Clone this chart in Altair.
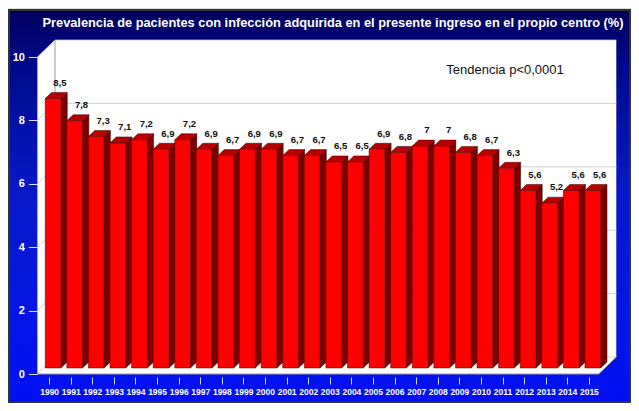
import altair as alt
import pandas as pd

# ---------------- data ----------------
years = [1990, 1991, 1992, 1993, 1994, 1995, 1996, 1997, 1998, 1999, 2000, 2001, 2002,
         2003, 2004, 2005, 2006, 2007, 2008, 2009, 2010, 2011, 2012, 2013, 2014, 2015]
values = [8.5, 7.8, 7.3, 7.1, 7.2, 6.9, 7.2, 6.9, 6.7, 6.9, 6.9, 6.7, 6.7,
          6.5, 6.5, 6.9, 6.8, 7.0, 7.0, 6.8, 6.7, 6.3, 5.6, 5.2, 5.6, 5.6]
value_labels = ["8,5", "7,8", "7,3", "7,1", "7,2", "6,9", "7,2", "6,9", "6,7", "6,9", "6,9", "6,7", "6,7",
                "6,5", "6,5", "6,9", "6,8", "7", "7", "6,8", "6,7", "6,3", "5,6", "5,2", "5,6", "5,6"]
y_ticks = [0, 2, 4, 6, 8, 10]
title_text = "Prevalencia de pacientes con infección adquirida en el presente ingreso en el propio centro (%)"
note_text = "Tendencia p<0,0001"

# ---------------- layout ----------------
W, H = 623, 395
SX = 623 / 636
YEAR_PX = 22.04 * SX
UNIT_PX = 31.7
X_1990 = 42 * SX
Y_ZERO = 366
x_dom = [1990 - X_1990 / YEAR_PX, 1990 + (W - X_1990) / YEAR_PX]
y_dom = [-(H - Y_ZERO) / UNIT_PX, Y_ZERO / UNIT_PX]
xs = alt.Scale(domain=x_dom, nice=False, zero=False)
ys = alt.Scale(domain=y_dom, nice=False, zero=False)

DEPTH_X = 18 / 22.04
DEPTH_Y = 17 / 31.7
FRONT_LEFT = 1990 + (30 - 42) / 22.04
FRONT_RIGHT = 1990 + (603 - 42) / 22.04
BACK_LEFT = FRONT_LEFT + DEPTH_X
BACK_RIGHT = FRONT_RIGHT + DEPTH_X
FX0 = -4 / 22.04
FX1 = 12 / 22.04
BDX = 6.5 / 22.04
BDY = 6 / 31.7
BASE = 6 / 31.7
LBL_DX = 0.5
LBL_DY = 0.59

FONT = "Liberation Sans"

xaxis = alt.Axis(values=years, format="d", offset=-26, tickSize=7, labelPadding=3, title=None,
                 labelFont=FONT, labelFontSize=8.5, labelFontWeight="bold",
                 labelColor="white", tickColor="#c8d0ff", domain=False, grid=False,
                 labelOverlap=False, labelFlush=False, zindex=1)
yaxis = alt.Axis(values=y_ticks, offset=-29.4, tickSize=9, labelPadding=4, title=None,
                 labelFont=FONT, labelFontSize=11, labelFontWeight="bold",
                 labelColor="white", tickColor="#d8dcff", domain=False, grid=False, zindex=1)

# ---------------- tables ----------------
bars = pd.DataFrame({"year": years, "value": values, "label": value_labels})
bars["x0"] = bars["year"] + FX0
bars["x1"] = bars["year"] + FX1
bars["y0"] = BASE
bars["y1"] = bars["value"] + BASE
bars["lx"] = bars["year"] + LBL_DX
bars["ly"] = bars["value"] + LBL_DY

side_rows, top_rows = [], []
for yr, v in zip(years, values):
    side_rows.append({"year": yr, "x": yr + FX1, "y": BASE, "y2": v + BASE})
    side_rows.append({"year": yr, "x": yr + FX1 + BDX, "y": BASE + BDY, "y2": v + BASE + BDY})
    top_rows.append({"year": yr, "y": v + BASE, "x": yr + FX0, "x2": yr + FX1})
    top_rows.append({"year": yr, "y": v + BASE + BDY, "x": yr + FX0 + BDX, "x2": yr + FX1 + BDX})
side = pd.DataFrame(side_rows)
top = pd.DataFrame(top_rows)

wall = pd.DataFrame({
    "x": [FRONT_LEFT, BACK_LEFT, FRONT_RIGHT, BACK_RIGHT],
    "y": [0, 0, 0, DEPTH_Y],
    "y2": [10, 10 + DEPTH_Y, 10 + DEPTH_Y, 10 + DEPTH_Y],
})

grid_back = pd.DataFrame({"x": BACK_LEFT, "x2": BACK_RIGHT, "y": [t + DEPTH_Y for t in y_ticks]})
grid_side = pd.DataFrame({"x": FRONT_LEFT, "x2": BACK_LEFT, "y": y_ticks,
                          "y2": [t + DEPTH_Y for t in y_ticks]})
edges = pd.DataFrame({
    "x": [BACK_LEFT, FRONT_LEFT, FRONT_RIGHT],
    "x2": [BACK_LEFT, FRONT_RIGHT, BACK_RIGHT],
    "y": [DEPTH_Y, 0, 0],
    "y2": [10 + DEPTH_Y, 0, DEPTH_Y],
})

one = pd.DataFrame({"a": [0]})

# ---------------- layers ----------------
gradient = alt.Gradient(
    gradient="linear", x1=0, y1=0, x2=0, y2=1,
    stops=[
        alt.GradientStop(offset=0, color="#00005e"),
        alt.GradientStop(offset=0.15, color="#000a8e"),
        alt.GradientStop(offset=0.45, color="#0818c6"),
        alt.GradientStop(offset=0.75, color="#0416e2"),
        alt.GradientStop(offset=1, color="#0010f2"),
    ],
)
background = alt.Chart(one).mark_rect(fill=gradient, stroke="#333333", strokeWidth=2).encode(
    x=alt.value(1), x2=alt.value(W - 1), y=alt.value(2), y2=alt.value(H - 1)
)

wall_layer = alt.Chart(wall).mark_area(fill="white", orient="vertical").encode(
    x=alt.X("x:Q", scale=xs, axis=xaxis),
    y=alt.Y("y:Q", scale=ys, axis=yaxis),
    y2="y2:Q",
)

gb = alt.Chart(grid_back).mark_rule(color="#c4c4c4", strokeWidth=0.8).encode(
    x=alt.X("x:Q", scale=xs, axis=xaxis), x2="x2:Q", y=alt.Y("y:Q", scale=ys, axis=yaxis)
)
gs = alt.Chart(grid_side).mark_rule(color="#c4c4c4", strokeWidth=0.8).encode(
    x=alt.X("x:Q", scale=xs, axis=xaxis), x2="x2:Q",
    y=alt.Y("y:Q", scale=ys, axis=yaxis), y2="y2:Q"
)
ed = alt.Chart(edges).mark_rule(color="#9a9a9a", strokeWidth=1).encode(
    x=alt.X("x:Q", scale=xs, axis=xaxis), x2="x2:Q",
    y=alt.Y("y:Q", scale=ys, axis=yaxis), y2="y2:Q"
)

side_layer = alt.Chart(side).mark_area(
    orient="vertical", fill="#7a0000", stroke="#3a0000", strokeWidth=0.5
).encode(
    x=alt.X("x:Q", scale=xs, axis=xaxis),
    y=alt.Y("y:Q", scale=ys, axis=yaxis), y2="y2:Q",
    detail="year:N",
)
top_layer = alt.Chart(top).mark_area(
    orient="horizontal", fill="#b80000", stroke="#3a0000", strokeWidth=0.5
).encode(
    y=alt.Y("y:Q", scale=ys, axis=yaxis),
    x=alt.X("x:Q", scale=xs, axis=xaxis), x2="x2:Q",
    detail="year:N",
)
front_layer = alt.Chart(bars).mark_rect(fill="#ff0000", stroke="#4a0000", strokeWidth=0.5).encode(
    x=alt.X("x0:Q", scale=xs, axis=xaxis), x2="x1:Q",
    y=alt.Y("y0:Q", scale=ys, axis=yaxis), y2="y1:Q",
)
labels_layer = alt.Chart(bars).mark_text(
    font=FONT, fontSize=9.5, fontWeight="bold", color="#111111", align="center", baseline="alphabetic"
).encode(
    x=alt.X("lx:Q", scale=xs, axis=xaxis),
    y=alt.Y("ly:Q", scale=ys, axis=yaxis),
    text="label:N",
)

title_layer = alt.Chart(one).mark_text(
    text=title_text, font=FONT, fontSize=12.8, fontWeight="bold",
    color="white", align="center", baseline="alphabetic"
).encode(x=alt.value(325), y=alt.value(19))

note_layer = alt.Chart(one).mark_text(
    text=note_text, font=FONT, fontSize=13, color="#111111", align="center", baseline="alphabetic"
).encode(x=alt.value(497), y=alt.value(66))

chart = alt.layer(
    background, wall_layer, gb, gs, ed, side_layer, top_layer, front_layer,
    labels_layer, title_layer, note_layer
).properties(
    width=W, height=H, padding=0, autosize=alt.AutoSizeParams(type="none")
).configure_view(stroke=None).configure(background="white")

chart.save("out.html", embed_options={"renderer": "svg", "actions": False})
